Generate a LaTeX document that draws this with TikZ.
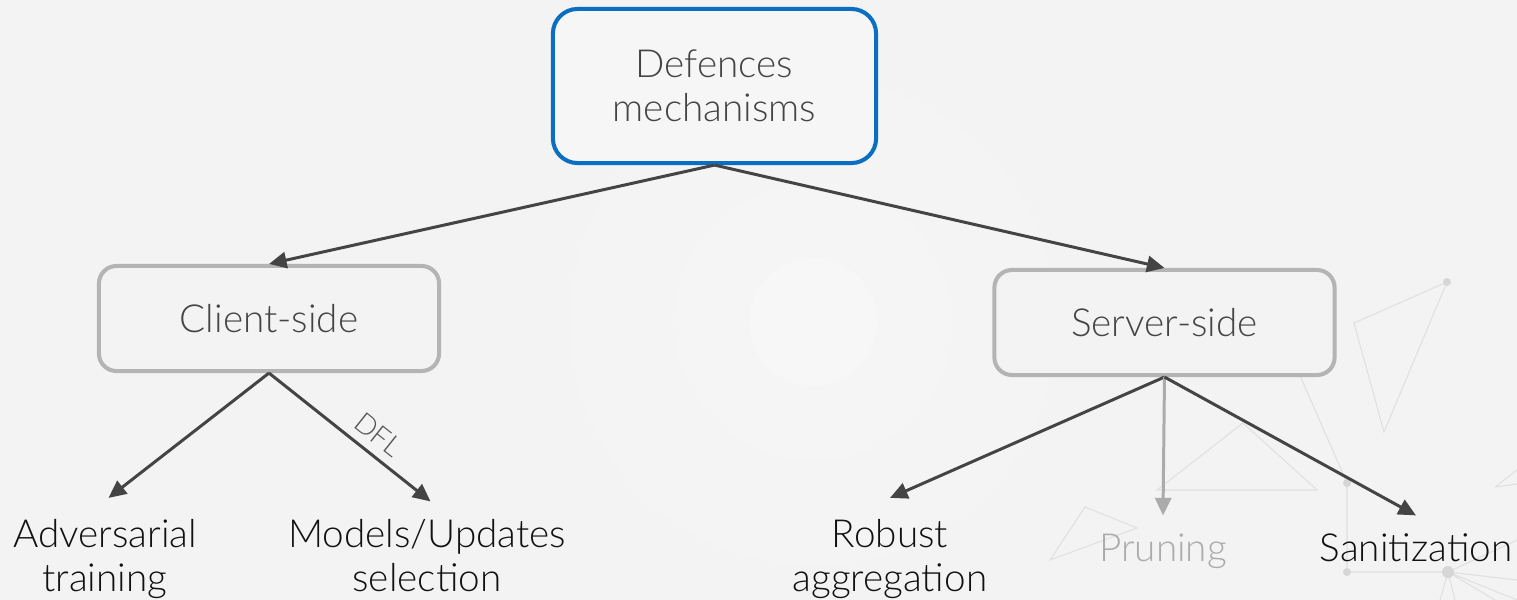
\documentclass[tikz,border=0pt]{standalone}
\usepackage{fontspec}
\setmainfont{Lato Light}
\usetikzlibrary{arrows.meta}
\definecolor{bgc}{HTML}{F3F3F3}
\definecolor{ring1}{HTML}{F4F4F4}
\definecolor{ring2}{HTML}{F5F5F5}
\definecolor{ring3}{HTML}{F7F7F7}
\definecolor{boxfill}{HTML}{F6F6F6}
\definecolor{deco}{HTML}{E0E0E0}
\definecolor{decodot}{HTML}{D6D6D6}
\definecolor{bluec}{HTML}{0A6FC2}
\definecolor{boxgray}{HTML}{B4B4B4}
\definecolor{txtgray}{HTML}{444444}
\definecolor{arrowc}{HTML}{444444}
\definecolor{prunec}{HTML}{ABABAB}
\definecolor{blackc}{HTML}{111111}
\definecolor{dflc}{HTML}{555555}
\tikzset{
  rootbox/.style={draw=bluec, line width=1.15pt, rounded corners=7pt, fill=boxfill,
    minimum width=3.23cm, minimum height=1.54cm, align=center, text=txtgray,
    font=\fontsize{11pt}{12.6pt}\selectfont, inner sep=0pt},
  sidebox/.style={draw=boxgray, line width=1.15pt, rounded corners=5pt, fill=bgc,
    minimum width=3.40cm, minimum height=1.05cm, align=center, text=txtgray,
    font=\fontsize{11pt}{12.6pt}\selectfont, inner sep=0pt},
  leaf/.style={align=center, text=blackc, font=\fontsize{11pt}{12.4pt}\selectfont, inner sep=0pt},
  conn/.style={draw=arrowc, line width=0.85pt, -{Triangle[length=5pt,width=4.6pt]}},
  graycon/.style={draw=prunec, line width=0.85pt, -{Triangle[length=5pt,width=4.6pt]}},
  decoline/.style={draw=deco, line width=0.3pt},
  edgelabel/.style={sloped, inner sep=0pt, font=\fontsize{8pt}{9pt}\selectfont, text=dflc},
}
\begin{document}
\begin{tikzpicture}[x=0.01cm,y=-0.01cm]
\useasboundingbox (0,0) rectangle (1517,600);
% background
\fill[bgc] (0,0) rectangle (1517,600);
\fill[ring1] (813,322) circle[radius=243];
\fill[ring2] (813,322) circle[radius=140];
\fill[ring3] (813,322) circle[radius=64];
% decorative network
\draw[decoline] (1163,377) -- (1277,323) -- (1347,483) -- (1347,572) -- (1448,572);
\draw[decoline] (1157,490) -- (1243,423) -- (1317,490) -- cycle;
\draw[decoline] (1354,323) -- (1447,282) -- (1384,432) -- cycle;
\draw[decoline] (1050,560) -- (1085,507) -- (1137,528) -- cycle;
\draw[decoline] (1448,572) -- (1517,580) (1448,572) -- (1517,600) (1448,572) -- (1495,600)
  (1448,572) -- (1440,600) (1448,572) -- (1455,600) (1448,572) -- (1517,540);
\draw[decoline] (1495,487) -- (1517,470) (1495,487) -- (1517,484);
\fill[decodot] (1277,323) circle[radius=4] (1447,282) circle[radius=4]
  (1347,483) circle[radius=4] (1347,572) circle[radius=4] (1448,572) circle[radius=6];
% nodes
\node[rootbox] (root) at (714.5,86) {Defences\\mechanisms};
\node[sidebox] (client) at (269,318.5) {Client-side};
\node[sidebox] (server) at (1164.5,322.5) {Server-side};
\node[leaf, anchor=north] (adv) at (105,519) {Adversarial\\training};
\node[leaf, anchor=north] (sel) at (427,519) {Models/Updates\\selection};
\node[leaf, anchor=north] (rob) at (890,519) {Robust\\aggregation};
\node[leaf, anchor=north, text=prunec] (pru) at (1163,533) {Pruning};
\node[leaf, anchor=north] (san) at (1416,533) {Sanitization};
% connectors
\draw[conn] (root.south) -- (client.north);
\draw[conn] (root.south) -- (server.north);
\draw[conn] (client.south) -- ([xshift=1pt,yshift=6pt]adv.north);
\draw[conn] (client.south) -- node[pos=0.6, above=2.5pt, edgelabel] (dfl) {DFL}
  ([xshift=1pt,yshift=5pt]sel.north);
\draw[conn] (server.south) -- ([yshift=6pt]rob.north);
\draw[graycon] (server.south) -- ([yshift=5pt]pru.north);
\draw[conn] (server.south) -- ([yshift=5pt]san.north);
\end{tikzpicture}
\end{document}
